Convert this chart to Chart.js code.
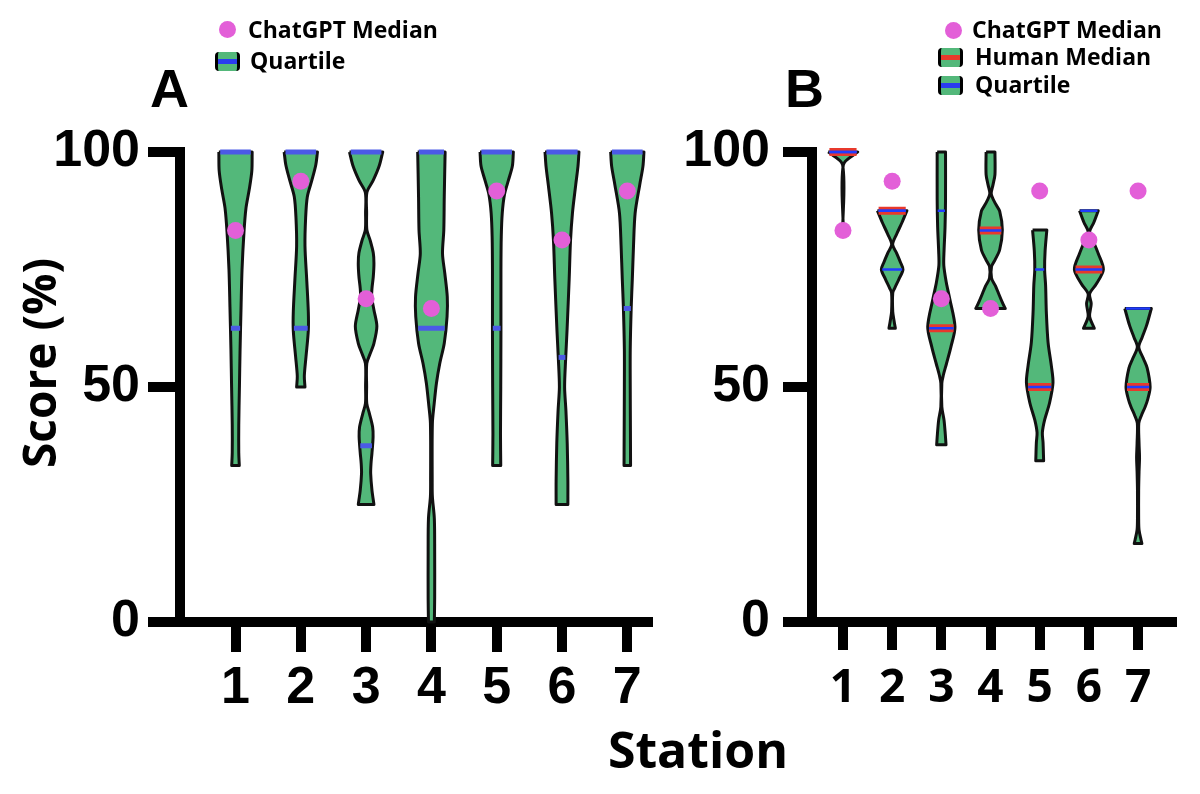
<!DOCTYPE html>
<html>
<head>
<meta charset="utf-8">
<script src="https://cdn.jsdelivr.net/npm/chart.js@4.4.1/dist/chart.umd.min.js"></script>
<style>
  body { margin: 0; background: #fff; width: 1200px; height: 794px; position: relative; overflow: hidden; font-family: "Open Sans", sans-serif; }
  #wrapA { position: absolute; left: 0; top: 0; width: 670px; height: 794px; }
  #wrapB { position: absolute; left: 670px; top: 0; width: 530px; height: 794px; }
  .t { position: absolute; white-space: nowrap; line-height: 1; color: #000; font-weight: 700; }
  .panel { font-family: "Liberation Sans", Arial, sans-serif; font-size: 54px; }
  .leg { font-size: 23px; }
  .dot { position: absolute; width: 17px; height: 17px; border-radius: 50%; background: #e35fd8; }
  .icon { position: absolute; width: 19px; height: 19px; background: #53b87a; border-left: 3px solid #000; border-right: 3px solid #000; border-radius: 4px; overflow: hidden; }
  .icon span { position: absolute; left: 0; right: 0; top: 7px; height: 5px; }
</style>
</head>
<body>
<div id="wrapA"><canvas id="chartA"></canvas></div>
<div id="wrapB"><canvas id="chartB"></canvas></div>

<div class="t panel" style="left:150px;top:61px;">A</div>
<div class="t panel" style="left:785px;top:61px;">B</div>

<div class="dot" style="left:219px;top:21px;"></div>
<div class="t leg" style="left:248px;top:18px;">ChatGPT Median</div>
<div class="icon" style="left:215px;top:52px;"><span style="background:#2a3cf0"></span></div>
<div class="t leg" style="left:250px;top:49px;">Quartile</div>

<div class="dot" style="left:945px;top:22px;"></div>
<div class="t leg" style="left:972px;top:18px;">ChatGPT Median</div>
<div class="icon" style="left:938px;top:48px;"><span style="background:#e8392c"></span></div>
<div class="t leg" style="left:975px;top:45px;">Human Median</div>
<div class="icon" style="left:938px;top:76px;"><span style="background:#2a3cf0"></span></div>
<div class="t leg" style="left:975px;top:73px;">Quartile</div>

<div class="t" style="left:-122px;top:340px;width:320px;height:46px;font-size:46px;line-height:46px;text-align:center;transform:rotate(-90deg);">Score (%)</div>
<div class="t" style="left:498px;top:724px;width:400px;font-size:50px;text-align:center;">Station</div>

<script>
const stations = [1, 2, 3, 4, 5, 6, 7];
const yTicks = [0, 50, 100];
const chatgptMedian = [83.3, 93.8, 68.8, 66.7, 91.7, 81.3, 91.7];

// panel A: quartile lines per station
const quartilesA = [[100, 62.5], [100, 62.5], [100, 37.5], [100, 62.5], [100, 62.5], [100, 56.3], [100, 66.7]];
// panel B
const humanMedianB = [100, 87.5, 62.5, 83.3, 50, 75, 50];
const quartilesB = [[100], [87.5, 75], [87.5], [], [75], [87.5], [66.7]];

// violin outlines: [score, half width in station units], top to bottom
const violinA = [
  [[100,.255],[96,.25],[92,.21],[88,.16],[83,.13],[75,.10],[67,.085],[58,.07],[50,.06],[42,.05],[36,.05],[33.3,.058]],
  [[100,.255],[97.3,.23],[94,.17],[90.5,.10],[86,.074],[80,.064],[73,.09],[66,.115],[62,.115],[56.5,.08],[52.3,.054],[50,.064]],
  [[100,.255],[97,.2],[94,.11],[91.4,.012],[87,.008],[83.4,.012],[81.3,.06],[78.5,.11],[76.3,.12],[73.5,.11],[71,.09],[69.2,.085],[66.4,.12],[62.9,.165],[59.3,.12],[57,.06],[55,.01],[50,.008],[46.5,.01],[44.4,.05],[41.5,.1],[39.4,.107],[36,.09],[33.7,.075],[31.6,.07],[28,.09],[25,.12]],
  [[100,.21],[90.5,.197],[83.4,.19],[78.4,.17],[74.2,.205],[69.2,.243],[65,.24],[59.3,.197],[55,.128],[50.8,.077],[46.5,.043],[42.3,.015],[30,.012],[26.7,.015],[22,.045],[15,.05],[5,.05],[0,.045]],
  [[100,.255],[97,.24],[94,.18],[91,.12],[87,.085],[82,.07],[75,.065],[62,.065],[50,.062],[40,.058],[33.3,.062]],
  [[100,.26],[97,.245],[93,.21],[87,.16],[81,.13],[73,.11],[62,.077],[56,.056],[50,.04],[45,.06],[38,.08],[30,.09],[25,.09]],
  [[100,.255],[97,.24],[93,.19],[87,.12],[80,.095],[73,.077],[67,.06],[58,.045],[50,.045],[40,.048],[33.3,.05]]
];
const violinB = [
  [[100,.30],[97.3,.008],[83.3,.006]],
  [[87.5,.30],[85,.2],[82.5,.09],[80.3,.01],[78.5,.09],[76.5,.17],[75,.22],[73,.14],[71,.05],[70,.012],[66,.012],[64,.04],[62.5,.065]],
  [[100,.085],[90,.085],[84,.075],[79,.055],[75.9,.05],[72.3,.1],[68.8,.17],[62.8,.277],[58.6,.196],[55,.105],[52.5,.04],[50.8,.01],[45.8,.01],[43,.054],[40,.08],[37.7,.095]],
  [[100,.09],[95.2,.09],[93,.05],[91.1,.015],[89,.1],[87.4,.186],[83.4,.24],[79.2,.186],[77,.09],[75.6,.02],[73.2,.02],[71.5,.1],[70,.16],[68,.24],[66.7,.30]],
  [[83.4,.145],[79,.11],[75,.10],[71.6,.12],[65.9,.135],[59.5,.17],[54.5,.237],[50.9,.27],[46.6,.2],[43,.1],[40.3,.054],[38.2,.068],[34.3,.08]],
  [[87.5,.19],[85,.1],[83,.015],[81,.09],[78.4,.19],[75,.295],[71.9,.15],[69.8,.015],[67.7,.047],[65,.015],[62.5,.11]],
  [[66.7,.27],[63,.17],[60.5,.08],[58.5,.015],[56,.11],[54,.186],[50,.245],[47.5,.2],[45.8,.145],[44,.07],[42.3,.015],[38,.02],[35,.03],[32,.02],[28,.012],[22,.012],[19.6,.02],[17.5,.06],[16.7,.078]]
];

const GREEN = '#53b87a';
const PINK = '#e35fd8';

function violinPoints(station, profile) {
  const left = profile.map(p => ({x: station - p[1], y: p[0]}));
  const right = profile.slice().reverse().map(p => ({x: station + p[1], y: p[0]}));
  // doubled corner points keep the flat ends sharp
  return [left[0], ...left, left[left.length - 1], right[0], ...right, right[right.length - 1], left[0]];
}

function widthAt(profile, v) {
  for (let k = 0; k < profile.length - 1; k++) {
    const a = profile[k], b = profile[k + 1];
    if (v <= a[0] && v >= b[0]) {
      const t = a[0] === b[0] ? 0 : (a[0] - v) / (a[0] - b[0]);
      return a[1] + (b[1] - a[1]) * t;
    }
  }
  return profile[profile.length - 1][1];
}

function hLine(station, v, w, color, width, order) {
  return {
    data: [{x: station - w, y: v}, {x: station + w, y: v}],
    borderColor: color, borderWidth: width, pointRadius: 0, fill: false,
    tension: 0, order: order, clip: 8
  };
}

function buildDatasets(violins, quartiles, quartWidth, medians) {
  const ds = [];
  violins.forEach((prof, i) => {
    ds.push({
      data: violinPoints(stations[i], prof),
      backgroundColor: GREEN, borderColor: '#111', borderWidth: 3,
      fill: 'shape', tension: 0.3, pointRadius: 0, order: 4, clip: 8,
      borderJoinStyle: 'round'
    });
  });
  if (medians) {
    medians.forEach((m, i) => {
      const w = widthAt(violins[i], m) * 0.92;
      ds.push(hLine(stations[i], m, w, '#e8392c', 8, 3));
      ds.push(hLine(stations[i], m, w, '#1f3cff', 2.5, 2));
    });
  }
  quartiles.forEach((qs, i) => {
    qs.forEach(q => {
      const w = widthAt(violins[i], q) * 0.92;
      ds.push(hLine(stations[i], q, w, quartWidth > 3 ? '#4b5ae6' : '#1f3cff', quartWidth, 2));
    });
  });
  ds.push({
    data: chatgptMedian.map((v, i) => ({x: stations[i], y: v})),
    showLine: false, pointRadius: 8.5, pointHoverRadius: 8.5,
    pointBackgroundColor: PINK, pointBorderWidth: 0, order: 0, clip: 12
  });
  return ds;
}

function makeChart(id, o) {
  return new Chart(document.getElementById(id).getContext('2d'), {
    type: 'line',
    data: { datasets: o.datasets },
    options: {
      responsive: true,
      maintainAspectRatio: false,
      animation: false,
      layout: { padding: { left: 0, right: o.padRight, top: 152, bottom: 0 } },
      plugins: { legend: { display: false }, tooltip: { enabled: false } },
      scales: {
        x: {
          type: 'linear', min: o.xMin, max: o.xMax,
          afterFit: s => { s.height = 172; },
          afterBuildTicks: s => { s.ticks = stations.map(v => ({value: v})); },
          ticks: { autoSkip: false, maxRotation: 0, padding: o.xPad, color: '#000',
                   font: { size: o.xFontSize, weight: 'bold', family: o.xFont } },
          grid: { drawOnChartArea: false, tickLength: o.xTick, lineWidth: 10, color: '#000' },
          border: { width: 10, color: '#000' }
        },
        y: {
          min: 0, max: 100,
          afterFit: s => { s.width = o.yWidth; },
          afterBuildTicks: s => { s.ticks = yTicks.map(v => ({value: v})); },
          ticks: { padding: o.yPad, color: '#000',
                   font: { size: 52, weight: 'bold', family: 'Liberation Sans' } },
          grid: { drawOnChartArea: false, tickLength: o.yTick, lineWidth: 10, color: '#000' },
          border: { width: 10, color: '#000' }
        }
      }
    }
  });
}

makeChart('chartA', {
  datasets: buildDatasets(violinA, quartilesA, 5, null),
  padRight: 22, xMin: 0.15, xMax: 7.317, yWidth: 180,
  xPad: 5, xTick: 30, xFont: 'Liberation Sans', xFontSize: 52,
  yPad: 8, yTick: 32
});

makeChart('chartB', {
  datasets: buildDatasets(violinB, quartilesB, 2.5, humanMedianB),
  padRight: 28, xMin: 0.37, xMax: 7.69, yWidth: 142,
  xPad: 11, xTick: 28, xFont: 'Open Sans', xFontSize: 46,
  yPad: 13, yTick: 29
});
</script>
</body>
</html>
